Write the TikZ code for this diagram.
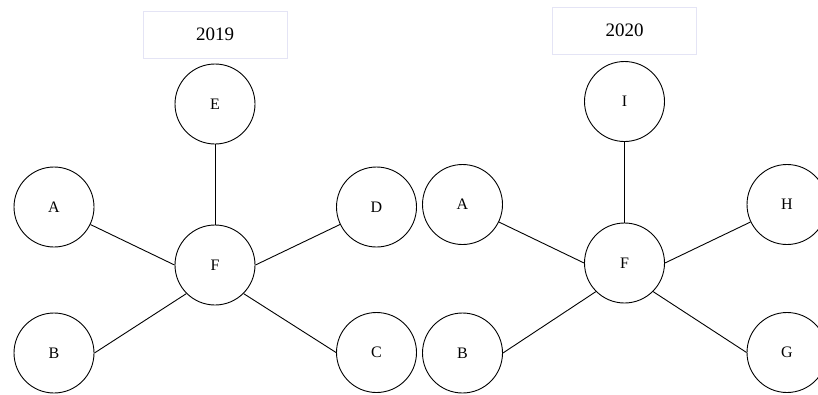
\documentclass[tikz,border=0pt]{standalone}
\usepackage{fontspec}
\setmainfont{Liberation Serif}
\definecolor{boxline}{RGB}{228,228,245}
\begin{document}
\begin{tikzpicture}[x=1pt,y=-1pt,
  vert/.style={circle,draw=black,line width=0.9pt,minimum size=80pt,inner sep=0pt,font=\fontsize{16}{19}\selectfont},
  yearbox/.style={draw=boxline,line width=1pt,minimum width=144pt,minimum height=47pt,inner sep=0pt,font=\fontsize{19}{22}\selectfont},
  edge/.style={line width=0.9pt}]
\useasboundingbox (0,0) rectangle (818,394);
% 2019
\node[yearbox] (y1) at (215,34.5) {2019};
\node[vert] (E1) at (215,104) {E};
\node[vert] (A1) at (54,207) {A};
\node[vert] (F1) at (215,265) {F};
\node[vert] (D1) at (376.5,207) {D};
\node[vert] (B1) at (54,353) {B};
\node[vert] (C1) at (376.5,352.5) {C};
\draw[edge] (E1) -- (F1);
\draw[edge] (A1) -- (F1.west);
\draw[edge] (F1.east) -- (D1);
\draw[edge] (F1.south west) -- (B1.east);
\draw[edge] (F1.south east) -- (C1.west);
% 2020
\node[yearbox] (y2) at (624.5,30.5) {2020};
\node[vert] (I2) at (624.5,101.5) {I};
\node[vert] (A2) at (462.5,204.5) {A};
\node[vert] (F2) at (624.5,263) {F};
\node[vert] (H2) at (787,204.5) {H};
\node[vert] (B2) at (462.5,353) {B};
\node[vert] (G2) at (787,352.5) {G};
\draw[edge] (I2) -- (F2);
\draw[edge] (A2) -- (F2.west);
\draw[edge] (F2.east) -- (H2);
\draw[edge] (F2.south west) -- (B2.east);
\draw[edge] (F2.south east) -- (G2.west);
\end{tikzpicture}
\end{document}
